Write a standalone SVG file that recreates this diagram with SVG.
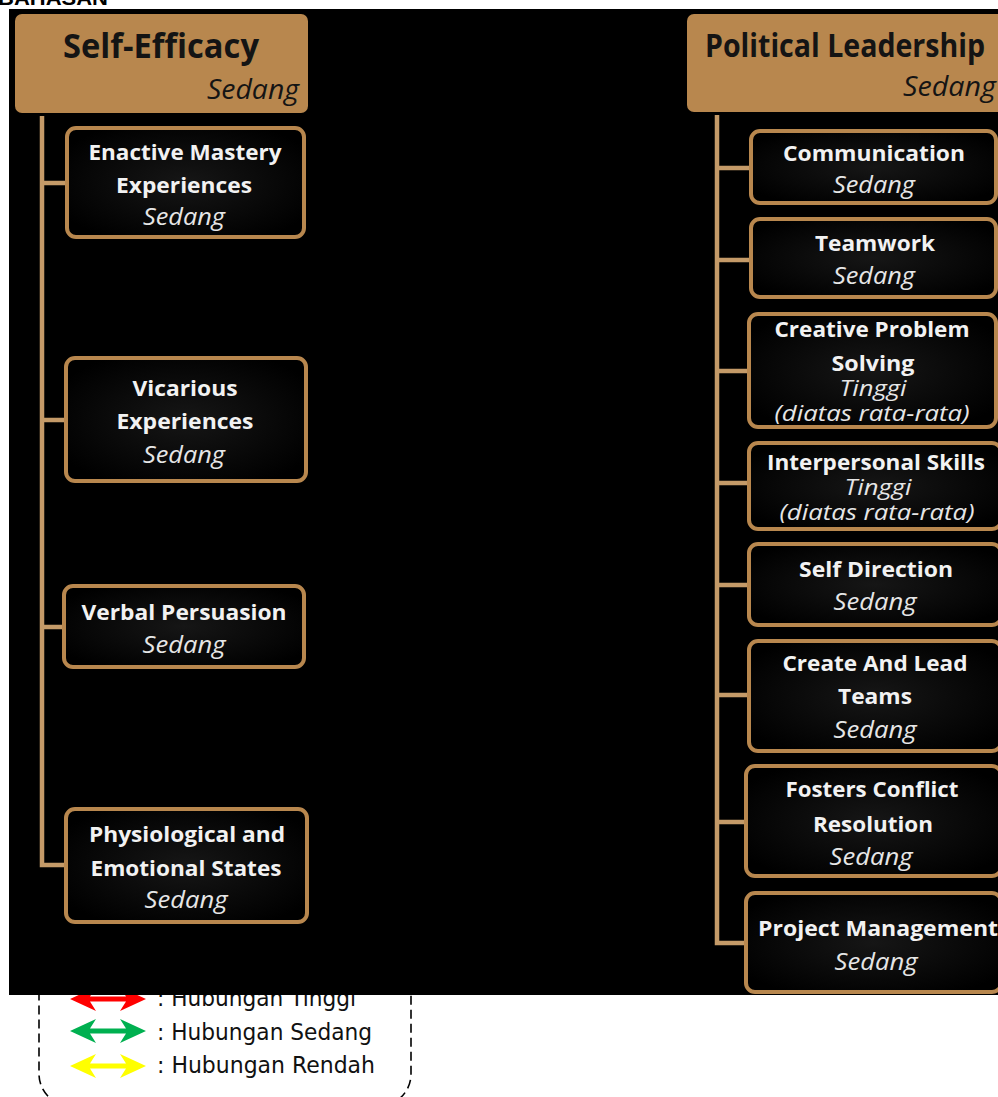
<svg xmlns="http://www.w3.org/2000/svg" width="998" height="1097" viewBox="0 0 998 1097">
<defs>
<radialGradient id="bg" cx="50%" cy="50%" r="60%">
<stop offset="0" stop-color="#161616"/>
<stop offset="1" stop-color="#000"/>
</radialGradient>
</defs>
<style>
.hdr{fill:#b8874e;stroke:none}
.box{fill:url(#bg);stroke:#b8874e;stroke-width:4}
.ln{stroke:#c49a68;stroke-width:4.5;fill:none}
.ht{font-family:"Open Sans","Noto Sans",sans-serif;font-weight:bold;fill:#141414}
.hs{font-family:"Open Sans","Noto Sans",sans-serif;font-style:italic;fill:#141414}
.bt{font-family:"Open Sans","Noto Sans",sans-serif;font-weight:bold;font-size:22px;fill:#f2f2f2;text-anchor:middle}
.bs{font-family:"Open Sans","Noto Sans",sans-serif;font-style:italic;font-size:24px;fill:#e6e6e6;text-anchor:middle}
.bsm{font-family:"Open Sans","Noto Sans",sans-serif;font-style:italic;font-size:22px;fill:#e6e6e6;text-anchor:middle}
.lg{font-family:"DejaVu Sans",sans-serif;font-size:23px;fill:#111}
</style>
<text x="-2" y="5" font-family="Liberation Sans, sans-serif" font-weight="bold" font-size="20" fill="#000" textLength="110" lengthAdjust="spacingAndGlyphs">BAHASAN</text>
<g id="legend">
<rect x="39" y="930" width="372" height="176" rx="32" fill="#fff" stroke="#000" stroke-width="1.6" stroke-dasharray="9,5"/>
<polygon fill="#ff0000" points="70,999 96,987 90,996.5 126,996.5 120,987 146,999 120,1011 126,1001.5 90,1001.5 96,1011"/>
<polygon fill="#00b050" points="70,1031 96,1019 90,1028.5 126,1028.5 120,1019 146,1031 120,1043 126,1033.5 90,1033.5 96,1043"/>
<polygon fill="#ffff00" points="70,1066 96,1054 90,1063.5 126,1063.5 120,1054 146,1066 120,1078 126,1068.5 90,1068.5 96,1078"/>
<text class="lg" x="157" y="1006" textLength="199" lengthAdjust="spacingAndGlyphs">: Hubungan Tinggi</text>
<text class="lg" x="157" y="1040" textLength="215" lengthAdjust="spacingAndGlyphs">: Hubungan Sedang</text>
<text class="lg" x="157" y="1073" textLength="218" lengthAdjust="spacingAndGlyphs">: Hubungan Rendah</text>
</g>
<rect x="9" y="9" width="989" height="986" fill="#000"/>
<g id="connectors">
<path class="ln" d="M42,116 V865 H66 M42,183 H66 M42,420 H66 M42,627 H64"/>
<path class="ln" d="M717,115 V943 H746 M717,168 H750 M717,260 H750 M717,371 H748 M717,483 H748 M717,585 H748 M717,695 H748 M717,822 H746"/>
</g>
<g id="self-efficacy">
<rect class="hdr" x="15" y="14" width="293" height="99" rx="7"/>
<text class="ht" x="161" y="58" font-size="34" text-anchor="middle" textLength="196" lengthAdjust="spacingAndGlyphs">Self-Efficacy</text>
<text class="hs" x="299" y="99" font-size="27" text-anchor="end" textLength="92" lengthAdjust="spacingAndGlyphs">Sedang</text>
</g>
<g id="enactive">
<rect class="box" x="67" y="128" width="237" height="109" rx="9"/>
<text class="bt" x="185" y="160" textLength="193" lengthAdjust="spacingAndGlyphs">Enactive Mastery</text>
<text class="bt" x="184" y="193" textLength="136" lengthAdjust="spacingAndGlyphs">Experiences</text>
<text class="bs" x="184" y="225" textLength="82" lengthAdjust="spacingAndGlyphs">Sedang</text>
</g>
<g id="vicarious">
<rect class="box" x="66" y="358" width="240" height="123" rx="9"/>
<text class="bt" x="185" y="396" textLength="105" lengthAdjust="spacingAndGlyphs">Vicarious</text>
<text class="bt" x="185" y="429" textLength="137" lengthAdjust="spacingAndGlyphs">Experiences</text>
<text class="bs" x="184" y="463" textLength="82" lengthAdjust="spacingAndGlyphs">Sedang</text>
</g>
<g id="verbal">
<rect class="box" x="64" y="586" width="240" height="81" rx="9"/>
<text class="bt" x="184" y="620" textLength="205" lengthAdjust="spacingAndGlyphs">Verbal Persuasion</text>
<text class="bs" x="184" y="653" textLength="83" lengthAdjust="spacingAndGlyphs">Sedang</text>
</g>
<g id="physiological">
<rect class="box" x="66" y="809" width="241" height="113" rx="9"/>
<text class="bt" x="187" y="842" textLength="196" lengthAdjust="spacingAndGlyphs">Physiological and</text>
<text class="bt" x="186" y="876" textLength="191" lengthAdjust="spacingAndGlyphs">Emotional States</text>
<text class="bs" x="186" y="908" textLength="83" lengthAdjust="spacingAndGlyphs">Sedang</text>
</g>
<g id="political-leadership">
<rect class="hdr" x="687" y="14" width="320" height="98" rx="7"/>
<text class="ht" x="845" y="57" font-size="33" text-anchor="middle" textLength="280" lengthAdjust="spacingAndGlyphs">Political Leadership</text>
<text class="hs" x="996" y="96" font-size="27" text-anchor="end" textLength="93" lengthAdjust="spacingAndGlyphs">Sedang</text>
</g>
<g id="communication">
<rect class="box" x="751" y="131" width="245" height="72" rx="9"/>
<text class="bt" x="874" y="161" textLength="182" lengthAdjust="spacingAndGlyphs">Communication</text>
<text class="bs" x="874" y="193" textLength="82" lengthAdjust="spacingAndGlyphs">Sedang</text>
</g>
<g id="teamwork">
<rect class="box" x="751" y="219" width="245" height="78" rx="9"/>
<text class="bt" x="875" y="251" textLength="120" lengthAdjust="spacingAndGlyphs">Teamwork</text>
<text class="bs" x="874" y="284" textLength="82" lengthAdjust="spacingAndGlyphs">Sedang</text>
</g>
<g id="creative-problem-solving">
<rect class="box" x="749" y="314" width="247" height="113" rx="9"/>
<text class="bt" x="872" y="337" textLength="195" lengthAdjust="spacingAndGlyphs">Creative Problem</text>
<text class="bt" x="873" y="371" textLength="83" lengthAdjust="spacingAndGlyphs">Solving</text>
<text class="bsm" x="873" y="396" textLength="67" lengthAdjust="spacingAndGlyphs">Tinggi</text>
<text class="bsm" x="872" y="421" textLength="195" lengthAdjust="spacingAndGlyphs">(diatas rata-rata)</text>
</g>
<g id="interpersonal-skills">
<rect class="box" x="749" y="443" width="252" height="86" rx="9"/>
<text class="bt" x="876" y="470" textLength="218" lengthAdjust="spacingAndGlyphs">Interpersonal Skills</text>
<text class="bsm" x="878" y="495" textLength="67" lengthAdjust="spacingAndGlyphs">Tinggi</text>
<text class="bsm" x="877" y="520" textLength="195" lengthAdjust="spacingAndGlyphs">(diatas rata-rata)</text>
</g>
<g id="self-direction">
<rect class="box" x="749" y="544" width="252" height="81" rx="9"/>
<text class="bt" x="876" y="577" textLength="154" lengthAdjust="spacingAndGlyphs">Self Direction</text>
<text class="bs" x="875" y="610" textLength="83" lengthAdjust="spacingAndGlyphs">Sedang</text>
</g>
<g id="create-and-lead-teams">
<rect class="box" x="749" y="641" width="252" height="110" rx="9"/>
<text class="bt" x="875" y="671" textLength="185" lengthAdjust="spacingAndGlyphs">Create And Lead</text>
<text class="bt" x="875" y="704" textLength="74" lengthAdjust="spacingAndGlyphs">Teams</text>
<text class="bs" x="875" y="738" textLength="83" lengthAdjust="spacingAndGlyphs">Sedang</text>
</g>
<g id="fosters-conflict-resolution">
<rect class="box" x="746" y="766" width="255" height="110" rx="9"/>
<text class="bt" x="872" y="797" textLength="173" lengthAdjust="spacingAndGlyphs">Fosters Conflict</text>
<text class="bt" x="873" y="832" textLength="120" lengthAdjust="spacingAndGlyphs">Resolution</text>
<text class="bs" x="871" y="865" textLength="83" lengthAdjust="spacingAndGlyphs">Sedang</text>
</g>
<g id="project-management">
<rect class="box" x="746" y="893" width="255" height="99" rx="9"/>
<text class="bt" x="878" y="936" textLength="240" lengthAdjust="spacingAndGlyphs">Project Management</text>
<text class="bs" x="876" y="970" textLength="83" lengthAdjust="spacingAndGlyphs">Sedang</text>
</g>
</svg>
